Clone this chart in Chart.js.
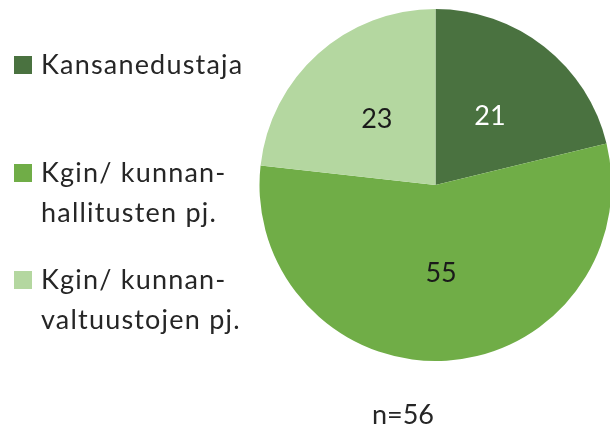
<!DOCTYPE html>
<html>
<head>
<meta charset="utf-8">
<script src="https://cdn.jsdelivr.net/npm/chart.js@4.4.1/dist/chart.umd.min.js"></script>
<style>
  html, body { margin: 0; padding: 0; background: #fff; overflow: hidden; }
  #wrap { width: 614px; height: 429px; position: relative; }
</style>
</head>
<body>
<div id="wrap"><canvas id="pie-chart"></canvas></div>
<script>
const categories = [
  ['Kansanedustaja'],
  ['Kgin/ kunnan-', 'hallitusten pj.'],
  ['Kgin/ kunnan-', 'valtuustojen pj.']
];
const values = [21, 55, 23];
const colors = ['#4a7240', '#70ad47', '#b4d7a0'];
const labelColors = ['#ffffff', '#1a1a1a', '#1a1a1a'];
const sampleNote = 'n=56';

const FONT = 'Lato, "Open Sans", sans-serif';

// legend drawn on the left, wrapped labels
const sideLegend = {
  id: 'sideLegend',
  afterDraw(chart) {
    const ctx = chart.ctx;
    const firstBaselines = [74, 182, 289];
    ctx.save();
    ctx.font = '27px ' + FONT;
    ctx.textBaseline = 'alphabetic';
    ctx.textAlign = 'left';
    ctx.letterSpacing = '1.2px';
    categories.forEach((lines, i) => {
      const y = firstBaselines[i];
      ctx.fillStyle = colors[i];
      ctx.fillRect(14, y - 18, 18, 18);
      ctx.fillStyle = '#262626';
      lines.forEach((line, j) => {
        ctx.fillText(line, 41, y + j * 40);
      });
    });
    ctx.letterSpacing = '0px';

    // value labels in the slices
    ctx.font = '27px ' + FONT;
    ctx.textAlign = 'center';
    ctx.textBaseline = 'middle';
    const meta = chart.getDatasetMeta(0);
    meta.data.forEach((arc, i) => {
      const p = arc.tooltipPosition();
      ctx.fillStyle = labelColors[i];
      ctx.fillText(String(values[i]), p.x, p.y);
    });

    // sample size note
    ctx.fillStyle = '#262626';
    ctx.fillText(sampleNote, 403, 415);
    ctx.restore();
  }
};

const ctx = document.getElementById('pie-chart').getContext('2d');
new Chart(ctx, {
  type: 'pie',
  data: {
    labels: categories.map(l => l.join(' ')),
    datasets: [{
      data: values,
      backgroundColor: colors,
      borderWidth: 0
    }]
  },
  options: {
    responsive: true,
    maintainAspectRatio: false,
    animation: false,
    layout: {
      padding: { top: 9, bottom: 68, left: 259.5, right: 2.5 }
    },
    plugins: {
      legend: { display: false },
      tooltip: { enabled: false }
    }
  },
  plugins: [sideLegend]
});
</script>
</body>
</html>
